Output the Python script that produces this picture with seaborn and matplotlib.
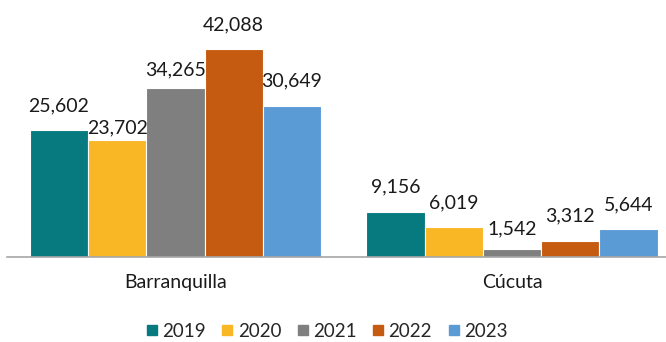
import matplotlib
matplotlib.use("Agg")
import matplotlib.pyplot as plt
from matplotlib.lines import Line2D
import seaborn as sns
import pandas as pd

# data
cities = ["Barranquilla", "Cúcuta"]
years = ["2019", "2020", "2021", "2022", "2023"]
barranquilla = [25602, 23702, 34265, 42088, 30649]
cucuta = [9156, 6019, 1542, 3312, 5644]

colors = ["#067A7E", "#F9B625", "#7F7F7F", "#C55A11", "#5B9BD5"]

rows = []
for city, vals in zip(cities, [barranquilla, cucuta]):
    for yr, v in zip(years, vals):
        rows.append({"city": city, "year": yr, "value": v})
df = pd.DataFrame(rows)

sns.set_theme(style="white")
plt.rcParams["font.family"] = ["Lato", "DejaVu Sans"]

fig = plt.figure(figsize=(6.66, 3.42), dpi=100)
ax = fig.add_axes([7.25 / 666, 85 / 342, 1 - 7.25 / 666, 257 / 342])

sns.barplot(data=df, x="city", y="value", hue="year", palette=colors,
            saturation=1, width=0.865, edgecolor="white", linewidth=0.8,
            ax=ax, legend=False, errorbar=None)

ax.set_xlim(-0.5, 1.4577)
ax.set_ylim(0, 257 * 42088 / 208)

# label lift above each bar (pixels), Excel nudged a few to avoid overlap
lift = {"23,702": 3, "34,265": 9, "1,542": 12}
for cont in ax.containers:
    for bar in cont:
        h = bar.get_height()
        txt = f"{h:,.0f}"
        ax.annotate(txt, (bar.get_x() + bar.get_width() / 2, h),
                    xytext=(0, lift.get(txt, 16) * 0.72), textcoords="offset points",
                    ha="center", va="bottom", fontsize=14, color="#1a1a1a")

for s in ["top", "right", "left"]:
    ax.spines[s].set_visible(False)
ax.spines["bottom"].set_color("#A6A6A6")
ax.spines["bottom"].set_linewidth(1.2)
ax.set_yticks([])
ax.set_xlabel("")
ax.set_ylabel("")
ax.tick_params(axis="x", length=0, pad=12, labelsize=14, labelcolor="#1a1a1a")

handles = [Line2D([], [], marker="s", linestyle="", markersize=7.5,
                  markerfacecolor=c, markeredgecolor=c) for c in colors]
fig.legend(handles, years, loc="center", bbox_to_anchor=(0.488, 0.032),
           ncol=5, frameon=False, fontsize=13.5, handletextpad=0.05,
           columnspacing=0.65, handlelength=1.0)

fig.savefig("out.png", dpi=100)
